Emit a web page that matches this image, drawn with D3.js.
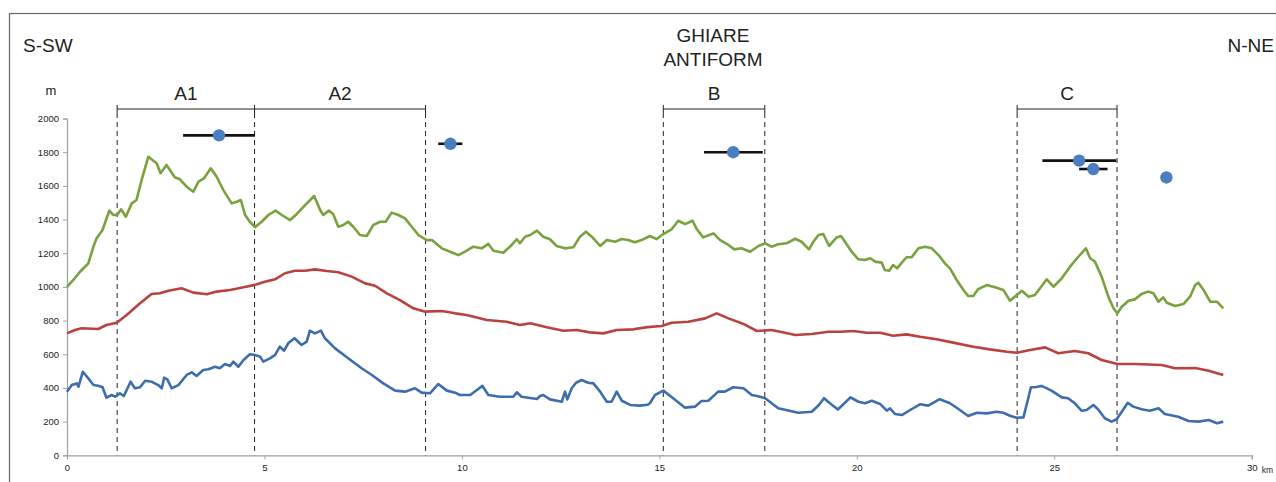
<!DOCTYPE html>
<html>
<head>
<meta charset="utf-8">
<script src="https://cdn.jsdelivr.net/npm/d3@7"></script>
<style>
  html, body { margin: 0; padding: 0; background: #fff; }
  svg { display: block; font-family: "Liberation Sans", Arial, sans-serif; }
</style>
</head>
<body>
<svg id="chart" width="1276" height="482"></svg>
<script>
// ---------- DATA ----------
const upperProfile = [[0,1000],[0.16,1041],[0.33,1090],[0.54,1140],[0.67,1239],[0.75,1289],[0.9,1338],[1.07,1453],[1.17,1427],[1.27,1427],[1.37,1461],[1.49,1417],[1.64,1496],[1.76,1516],[1.89,1635],[2.06,1773],[2.14,1758],[2.27,1734],[2.37,1675],[2.52,1724],[2.73,1651],[2.86,1639],[3.03,1595],[3.2,1565],[3.33,1625],[3.47,1645],[3.64,1704],[3.79,1654],[3.96,1575],[4.17,1496],[4.3,1506],[4.4,1516],[4.51,1427],[4.63,1387],[4.76,1355],[4.93,1387],[5.1,1427],[5.28,1453],[5.44,1427],[5.65,1397],[5.82,1433],[6.03,1486],[6.26,1540],[6.41,1457],[6.49,1427],[6.63,1453],[6.74,1433],[6.87,1357],[7.0,1368],[7.12,1387],[7.25,1357],[7.42,1308],[7.59,1302],[7.76,1368],[7.93,1387],[8.07,1387],[8.22,1441],[8.39,1427],[8.56,1407],[8.73,1357],[8.9,1308],[9.11,1278],[9.24,1278],[9.49,1229],[9.7,1209],[9.91,1189],[10.08,1209],[10.29,1239],[10.5,1229],[10.67,1255],[10.8,1215],[11.05,1203],[11.26,1249],[11.39,1283],[11.47,1259],[11.6,1298],[11.73,1308],[11.9,1334],[12.06,1298],[12.23,1283],[12.4,1243],[12.61,1229],[12.82,1235],[12.99,1298],[13.14,1328],[13.29,1298],[13.5,1243],[13.67,1278],[13.88,1268],[14.05,1284],[14.21,1278],[14.38,1265],[14.55,1278],[14.76,1302],[14.93,1284],[15.1,1314],[15.31,1342],[15.48,1393],[15.65,1373],[15.84,1393],[15.95,1342],[16.11,1294],[16.37,1318],[16.54,1278],[16.75,1249],[16.9,1223],[17.08,1229],[17.3,1209],[17.51,1243],[17.68,1259],[17.84,1239],[18.01,1253],[18.22,1259],[18.44,1286],[18.6,1268],[18.79,1223],[18.9,1268],[19.03,1308],[19.15,1314],[19.3,1243],[19.49,1294],[19.6,1302],[19.7,1268],[19.87,1209],[20.04,1164],[20.21,1160],[20.34,1170],[20.47,1150],[20.63,1144],[20.71,1100],[20.82,1096],[20.92,1130],[21.02,1110],[21.14,1144],[21.26,1176],[21.39,1176],[21.56,1229],[21.73,1239],[21.9,1229],[22.07,1189],[22.23,1140],[22.36,1110],[22.53,1041],[22.7,982],[22.82,946],[22.95,946],[23.07,986],[23.29,1011],[23.5,998],[23.71,982],[23.88,918],[24.05,952],[24.18,977],[24.35,942],[24.51,952],[24.64,992],[24.81,1045],[24.98,1001],[25.19,1051],[25.4,1120],[25.61,1179],[25.8,1229],[25.91,1170],[26.03,1150],[26.2,1061],[26.37,942],[26.5,873],[26.6,843],[26.71,882],[26.88,918],[27.04,926],[27.21,958],[27.38,972],[27.51,962],[27.64,912],[27.76,938],[27.85,906],[28.06,887],[28.27,898],[28.44,942],[28.57,1011],[28.65,1025],[28.78,982],[28.95,912],[29.12,912],[29.28,873]];

const middleProfile = [[0,724],[0.2,744],[0.37,754],[0.79,750],[1.0,774],[1.26,787],[1.51,833],[1.85,903],[2.14,958],[2.35,962],[2.57,977],[2.9,992],[3.2,966],[3.54,956],[3.79,972],[4.13,982],[4.47,998],[4.76,1012],[5.01,1031],[5.27,1045],[5.52,1081],[5.77,1096],[6.03,1096],[6.28,1104],[6.58,1094],[6.87,1087],[7.21,1061],[7.55,1021],[7.8,1007],[8.1,962],[8.43,922],[8.77,873],[9.07,853],[9.49,857],[9.83,843],[10.12,833],[10.63,803],[11.13,793],[11.47,774],[11.73,784],[12.15,760],[12.57,740],[12.91,744],[13.24,730],[13.58,724],[13.92,744],[14.34,748],[14.7,761],[15.06,768],[15.31,787],[15.73,793],[16.16,813],[16.45,843],[16.75,813],[17.13,780],[17.47,738],[17.84,744],[18.18,728],[18.44,714],[18.86,720],[19.28,734],[19.6,734],[19.91,738],[20.25,728],[20.59,728],[20.92,710],[21.26,718],[21.6,704],[22.02,689],[22.44,669],[22.95,645],[23.37,629],[23.8,615],[24.05,609],[24.39,625],[24.77,641],[25.1,606],[25.52,619],[25.86,606],[26.2,566],[26.6,542],[27.04,542],[27.72,536],[28.06,517],[28.57,518],[28.91,502],[29.28,477]];

const lowerProfile = [[0,378],[0.12,417],[0.25,427],[0.29,407],[0.4,496],[0.54,457],[0.67,417],[0.79,413],[0.9,404],[1.0,342],[1.13,358],[1.22,348],[1.34,368],[1.44,352],[1.61,437],[1.72,398],[1.85,404],[1.98,443],[2.14,437],[2.31,417],[2.4,398],[2.46,461],[2.54,451],[2.65,398],[2.82,417],[3.03,477],[3.16,493],[3.28,471],[3.45,507],[3.58,511],[3.75,526],[3.87,517],[4.0,542],[4.13,530],[4.21,556],[4.34,526],[4.47,566],[4.63,600],[4.76,596],[4.89,586],[4.97,556],[5.14,576],[5.27,596],[5.39,645],[5.5,621],[5.6,665],[5.76,695],[5.94,655],[6.07,675],[6.15,740],[6.28,724],[6.43,740],[6.53,695],[6.79,635],[7.12,576],[7.46,517],[7.72,477],[8.01,427],[8.31,384],[8.56,378],[8.81,398],[8.98,372],[9.19,368],[9.4,423],[9.62,384],[9.83,372],[9.95,358],[10.21,358],[10.38,388],[10.52,412],[10.67,358],[10.96,348],[11.3,348],[11.39,374],[11.51,348],[11.9,334],[11.98,352],[12.06,358],[12.23,332],[12.53,318],[12.61,378],[12.67,332],[12.78,398],[12.89,431],[13.03,447],[13.2,431],[13.33,427],[13.5,378],[13.67,318],[13.79,318],[13.92,378],[14.05,324],[14.26,299],[14.51,295],[14.7,300],[14.76,309],[14.89,358],[15.1,384],[15.35,339],[15.65,283],[15.9,289],[16.07,322],[16.24,324],[16.49,378],[16.66,378],[16.87,404],[17.13,398],[17.34,358],[17.47,352],[17.68,339],[18.01,279],[18.52,253],[18.86,259],[19.04,299],[19.17,339],[19.32,309],[19.52,272],[19.7,312],[19.84,344],[20.04,318],[20.21,309],[20.38,324],[20.59,305],[20.76,265],[20.84,279],[20.97,245],[21.14,239],[21.35,269],[21.6,303],[21.81,295],[22.1,333],[22.36,309],[22.61,269],[22.82,233],[23.04,253],[23.29,249],[23.54,259],[23.71,253],[23.88,235],[24.05,223],[24.22,225],[24.31,309],[24.41,404],[24.51,404],[24.68,412],[24.93,384],[25.19,344],[25.35,339],[25.52,309],[25.69,265],[25.82,269],[25.99,299],[26.11,273],[26.28,220],[26.45,200],[26.58,214],[26.71,259],[26.86,312],[27.0,289],[27.21,273],[27.42,265],[27.64,279],[27.8,245],[28.14,229],[28.4,204],[28.65,200],[28.91,210],[29.12,190],[29.28,200]];

// sample points with horizontal ranges
const sampleKm   = [3.85, 9.71, 16.87, 25.63, 25.99, 27.84];
const sampleElev = [1900, 1850, 1800, 1750, 1700, 1650];
const rangeLow   = [2.94, 9.40, 16.13, 24.70, 25.63, null];
const rangeHigh  = [4.76, 10.01, 17.62, 26.57, 26.35, null];

// segment brackets
const segmentNames = ["A1", "A2", "B", "C"];
const segmentStart = [1.27, 4.75, 15.1, 24.06];
const segmentEnd   = [4.75, 9.08, 17.67, 26.59];

const xTicks = [0, 5, 10, 15, 20, 25, 30];
const yTicks = [0, 200, 400, 600, 800, 1000, 1200, 1400, 1600, 1800, 2000];

// ---------- DRAW ----------
const svg = d3.select("#chart");
const x = d3.scaleLinear().domain([0, 30]).range([67, 1251.7]);
const y = d3.scaleLinear().domain([0, 2000]).range([455.3, 118.5]);

// frame
svg.append("rect").attr("x", 9.5).attr("y", 13.5).attr("width", 1300).attr("height", 500)
  .attr("fill", "none").attr("stroke", "#666").attr("stroke-width", 1.2);

// headings
const txt = (t, px, py, size, anchor) => svg.append("text").text(t)
  .attr("x", px).attr("y", py).attr("font-size", size).attr("text-anchor", anchor || "start")
  .attr("fill", "#222");
txt("S-SW", 23, 52, 19);
txt("N-NE", 1274, 52, 19, "end");
txt("GHIARE", 713, 42, 19, "middle");
txt("ANTIFORM", 713, 65.5, 19, "middle");
txt("m", 51, 95, 13, "middle");

// axes
const yAxis = d3.axisLeft(y).tickValues(yTicks).tickFormat(d3.format("d")).tickSize(4).tickPadding(4);
const gy = svg.append("g").attr("transform", `translate(${x(0)},0)`).call(yAxis);
const xAxis = d3.axisBottom(x).tickValues(xTicks).tickFormat(d3.format("d")).tickSize(4).tickPadding(5);
const gx = svg.append("g").attr("transform", `translate(0,${y(0)})`).call(xAxis);
[gx, gy].forEach(g => {
  g.select(".domain").attr("stroke", "#a0a0a0").attr("stroke-width", 1.2);
  g.selectAll(".tick line").attr("stroke", "#a0a0a0");
  g.selectAll(".tick text").attr("font-size", 9.5).attr("fill", "#222")
    .attr("font-family", "Liberation Sans, Arial, sans-serif");
});
svg.append("text").text("km").attr("x", x(30) + 10).attr("y", y(0) + 18)
  .attr("font-size", 8.5).attr("fill", "#222");

// segment brackets and dashed boundaries
const bracketY = 109;
const boundaries = Array.from(new Set(segmentStart.concat(segmentEnd)));
svg.append("g").selectAll("line").data(boundaries).join("line")
  .attr("x1", d => x(d)).attr("x2", d => x(d))
  .attr("y1", bracketY + 4).attr("y2", y(0))
  .attr("stroke", "#222").attr("stroke-width", 1).attr("stroke-dasharray", "5,4");
svg.append("g").selectAll("line").data(boundaries).join("line")
  .attr("x1", d => x(d)).attr("x2", d => x(d))
  .attr("y1", bracketY - 4).attr("y2", bracketY + 4)
  .attr("stroke", "#222").attr("stroke-width", 1);
const segG = svg.append("g").selectAll("g").data(segmentNames.map((n, i) => ({n, s: segmentStart[i], e: segmentEnd[i]}))).join("g");
segG.append("line").attr("x1", d => x(d.s)).attr("x2", d => x(d.e))
  .attr("y1", bracketY).attr("y2", bracketY).attr("stroke", "#222").attr("stroke-width", 1);
segG.append("text").text(d => d.n).attr("x", d => (x(d.s) + x(d.e)) / 2).attr("y", 100)
  .attr("text-anchor", "middle").attr("font-size", 19).attr("fill", "#222");

// profiles
const line = d3.line().x(d => x(d[0])).y(d => y(d[1])).curve(d3.curveLinear);
[[upperProfile, "#79A13E"], [middleProfile, "#B9423F"], [lowerProfile, "#3E6DAE"]].forEach(([data, c]) => {
  svg.append("path").datum(data).attr("d", line).attr("fill", "none")
    .attr("stroke", c).attr("stroke-width", 2.6).attr("stroke-linejoin", "round");
});

// sample ranges and points
const samples = sampleKm.map((k, i) => ({k, e: sampleElev[i], lo: rangeLow[i], hi: rangeHigh[i]}));
svg.append("g").selectAll("line").data(samples.filter(d => d.lo != null)).join("line")
  .attr("x1", d => x(d.lo)).attr("x2", d => x(d.hi))
  .attr("y1", d => y(d.e)).attr("y2", d => y(d.e))
  .attr("stroke", "#111").attr("stroke-width", 2.6);
svg.append("g").selectAll("circle").data(samples).join("circle")
  .attr("cx", d => x(d.k)).attr("cy", d => y(d.e)).attr("r", 6.2)
  .attr("fill", "#4A7EC0");
</script>
</body>
</html>
